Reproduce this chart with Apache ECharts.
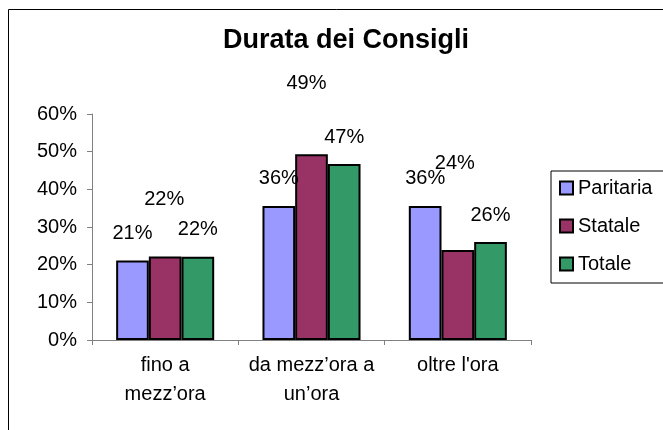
<!DOCTYPE html>
<html>
<head>
<meta charset="utf-8">
<script src="https://cdn.jsdelivr.net/npm/echarts@6/dist/echarts.min.js"></script>
<style>
html,body{margin:0;padding:0;background:#fff;}
#chart{width:663px;height:430px;}
</style>
</head>
<body>
<div id="chart"></div>
<script>
const categories = ['fino a\nmezz\u2019ora', 'da mezz\u2019ora a\nun\u2019ora', "oltre l'ora"];
const seriesNames = ['Paritaria', 'Statale', 'Totale'];
const paritaria = [21.1, 35.6, 35.6];
const statale = [22.2, 49.3, 23.9];
const totale = [22.1, 46.7, 26.0];
const yTicks = [0, 10, 20, 30, 40, 50, 60];

const colors = ['#9999FF', '#993366', '#339966'];
const statLabelOffsets = [[-1, -30], [-5, -44], [-3, -59]];
const FONT = 'Liberation Sans, Arial, sans-serif';

const chart = echarts.init(document.getElementById('chart'), null, {renderer: 'canvas'});

function labelCfg() {
  return {
    show: true,
    position: 'top',
    distance: 17,
    fontFamily: FONT,
    fontSize: 20,
    color: '#000',
    formatter: p => Math.round(p.value) + '%'
  };
}

const seriesData = [paritaria, statale, totale];
const series = seriesNames.map((name, si) => ({
  name: name,
  type: 'bar',
  barGap: '0%',
  barCategoryGap: '33%',
  itemStyle: {color: colors[si], borderColor: '#000', borderWidth: 2},
  label: labelCfg(),
  data: seriesData[si].map((v, i) => si === 1
    ? {value: v, label: {offset: statLabelOffsets[i]}}
    : v)
}));

chart.setOption({
  animation: false,
  backgroundColor: '#fff',
  title: {
    text: 'Durata dei Consigli',
    left: 341,
    top: 22,
    textAlign: 'center',
    textStyle: {fontFamily: FONT, fontSize: 27, fontWeight: 'bold', color: '#000'}
  },
  legend: {
    orient: 'vertical',
    left: 551,
    top: 171,
    padding: [7, 30, 9, 8],
    icon: 'rect',
    itemWidth: 13,
    itemHeight: 13,
    itemGap: 18,
    borderColor: '#000',
    borderWidth: 1,
    data: seriesNames,
    textStyle: {fontFamily: FONT, fontSize: 20, color: '#000', lineHeight: 20}
  },
  grid: {left: 92, right: 132, top: 114, bottom: 90, containLabel: false},
  xAxis: {
    type: 'category',
    data: categories,
    axisLine: {lineStyle: {color: '#808080', width: 1}},
    axisTick: {show: true, length: 5, lineStyle: {color: '#808080'}},
    axisLabel: {fontFamily: FONT, fontSize: 20, color: '#000', margin: 11, lineHeight: 29, interval: 0}
  },
  yAxis: {
    type: 'value',
    min: yTicks[0],
    max: yTicks[yTicks.length - 1],
    interval: yTicks[1] - yTicks[0],
    splitLine: {show: false},
    axisLine: {show: true, lineStyle: {color: '#808080', width: 1}},
    axisTick: {show: true, length: 5, lineStyle: {color: '#808080'}},
    axisLabel: {fontFamily: FONT, fontSize: 20, color: '#000', margin: 15, formatter: '{value}%'}
  },
  graphic: [{
    type: 'rect',
    silent: true,
    z: -1,
    shape: {x: 8.5, y: 9.5, width: 700, height: 500},
    style: {fill: 'none', stroke: '#000', lineWidth: 1}
  }],
  series: series
});
</script>
</body>
</html>
